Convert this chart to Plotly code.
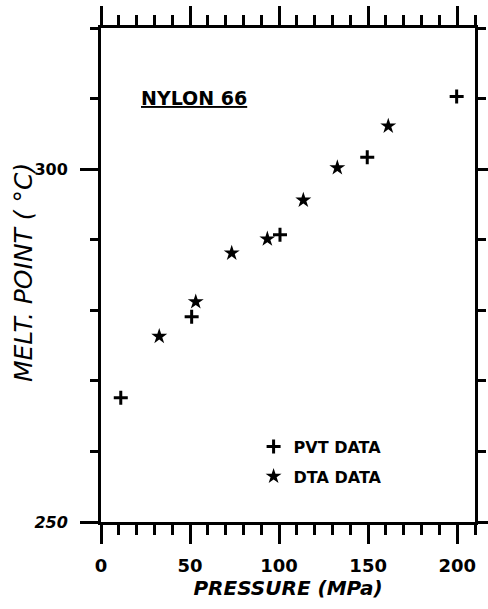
import plotly.graph_objects as go

# ---- data ----
pvt_pressure = [11.1, 50.9, 100.5, 149.5, 199.7]
pvt_melt = [267.6, 279.1, 290.7, 301.7, 310.3]

dta_pressure = [32.7, 53.2, 73.4, 93.4, 113.6, 132.7, 161.3]
dta_melt = [276.3, 281.2, 288.1, 290.1, 295.6, 300.2, 306.1]

x_tickvals = [0, 50, 100, 150, 200]
x_ticktext = ["0", "50", "100", "150", "200"]
y_tickvals = [250, 300]
y_ticktext = ["<i>250</i>", "300"]

FONT = "DejaVu Sans"

fig = go.Figure()
fig.add_trace(go.Scatter(
    x=pvt_pressure, y=pvt_melt, mode="markers", name="PVT DATA",
    legendgroup="a",
    marker=dict(symbol="cross-thin", size=10, color="black",
                line=dict(color="black", width=3)),
))
fig.add_trace(go.Scatter(
    x=dta_pressure, y=dta_melt, mode="markers", name="DTA DATA",
    legendgroup="b",
    marker=dict(symbol="star", size=12, color="black",
                line=dict(color="black", width=0)),
))

axis_common = dict(
    showgrid=False, zeroline=False, showline=True, linecolor="black",
    linewidth=3, ticks="outside", tickcolor="black", tickwidth=2.5,
    mirror="allticks", automargin=False,
)

fig.update_xaxes(
    **axis_common,
    range=[0, 210], tickvals=x_tickvals, ticktext=x_ticktext,
    ticklen=19, ticklabelstandoff=6,
    tickfont=dict(family=FONT, size=18, color="black", weight="bold"),
    minor=dict(dtick=10, tick0=0, ticks="outside", ticklen=10,
               tickwidth=2.5, tickcolor="black"),
    title=dict(text="PRESSURE (MPa)", standoff=6,
               font=dict(family=FONT, size=20, color="black",
                         weight="bold", style="italic")),
)
fig.update_yaxes(
    **axis_common,
    range=[250, 320], tickvals=y_tickvals, ticktext=y_ticktext,
    ticklen=18, ticklabelstandoff=9,
    tickfont=dict(family=FONT, size=16, color="black", weight="bold"),
    minor=dict(dtick=10, tick0=250, ticks="outside", ticklen=8,
               tickwidth=2.5, tickcolor="black"),
)

# y-axis title placed as a rotated annotation to sit close to the tick labels
fig.add_annotation(
    text="<i>MELT. POINT ( °C)</i>", xref="paper", yref="paper",
    x=(23 - 101) / 374, y=(522 - 273) / 494, showarrow=False,
    xanchor="center", yanchor="middle", textangle=-90,
    font=dict(family=FONT, size=25, color="black"),
)

fig.add_annotation(
    text="<b><u>NYLON 66</u></b>", xref="paper", yref="paper",
    x=(194 - 101) / 374, y=(522 - 98) / 494, showarrow=False,
    xanchor="center", yanchor="middle",
    font=dict(family=FONT, size=19, color="black"),
)

fig.update_layout(
    width=488, height=609,
    margin=dict(l=101, r=13, t=28, b=87),
    paper_bgcolor="white", plot_bgcolor="white",
    showlegend=True,
    legend=dict(
        x=0.408, y=0.187, xanchor="left", yanchor="top",
        bgcolor="rgba(0,0,0,0)", tracegroupgap=6,
        font=dict(family=FONT, size=16, color="black", weight="bold"),
    ),
)

fig.write_html(
    "out.html",
    config={"displayModeBar": False},
    post_script="document.body.style.margin='0';document.body.style.overflow='hidden';",
)
